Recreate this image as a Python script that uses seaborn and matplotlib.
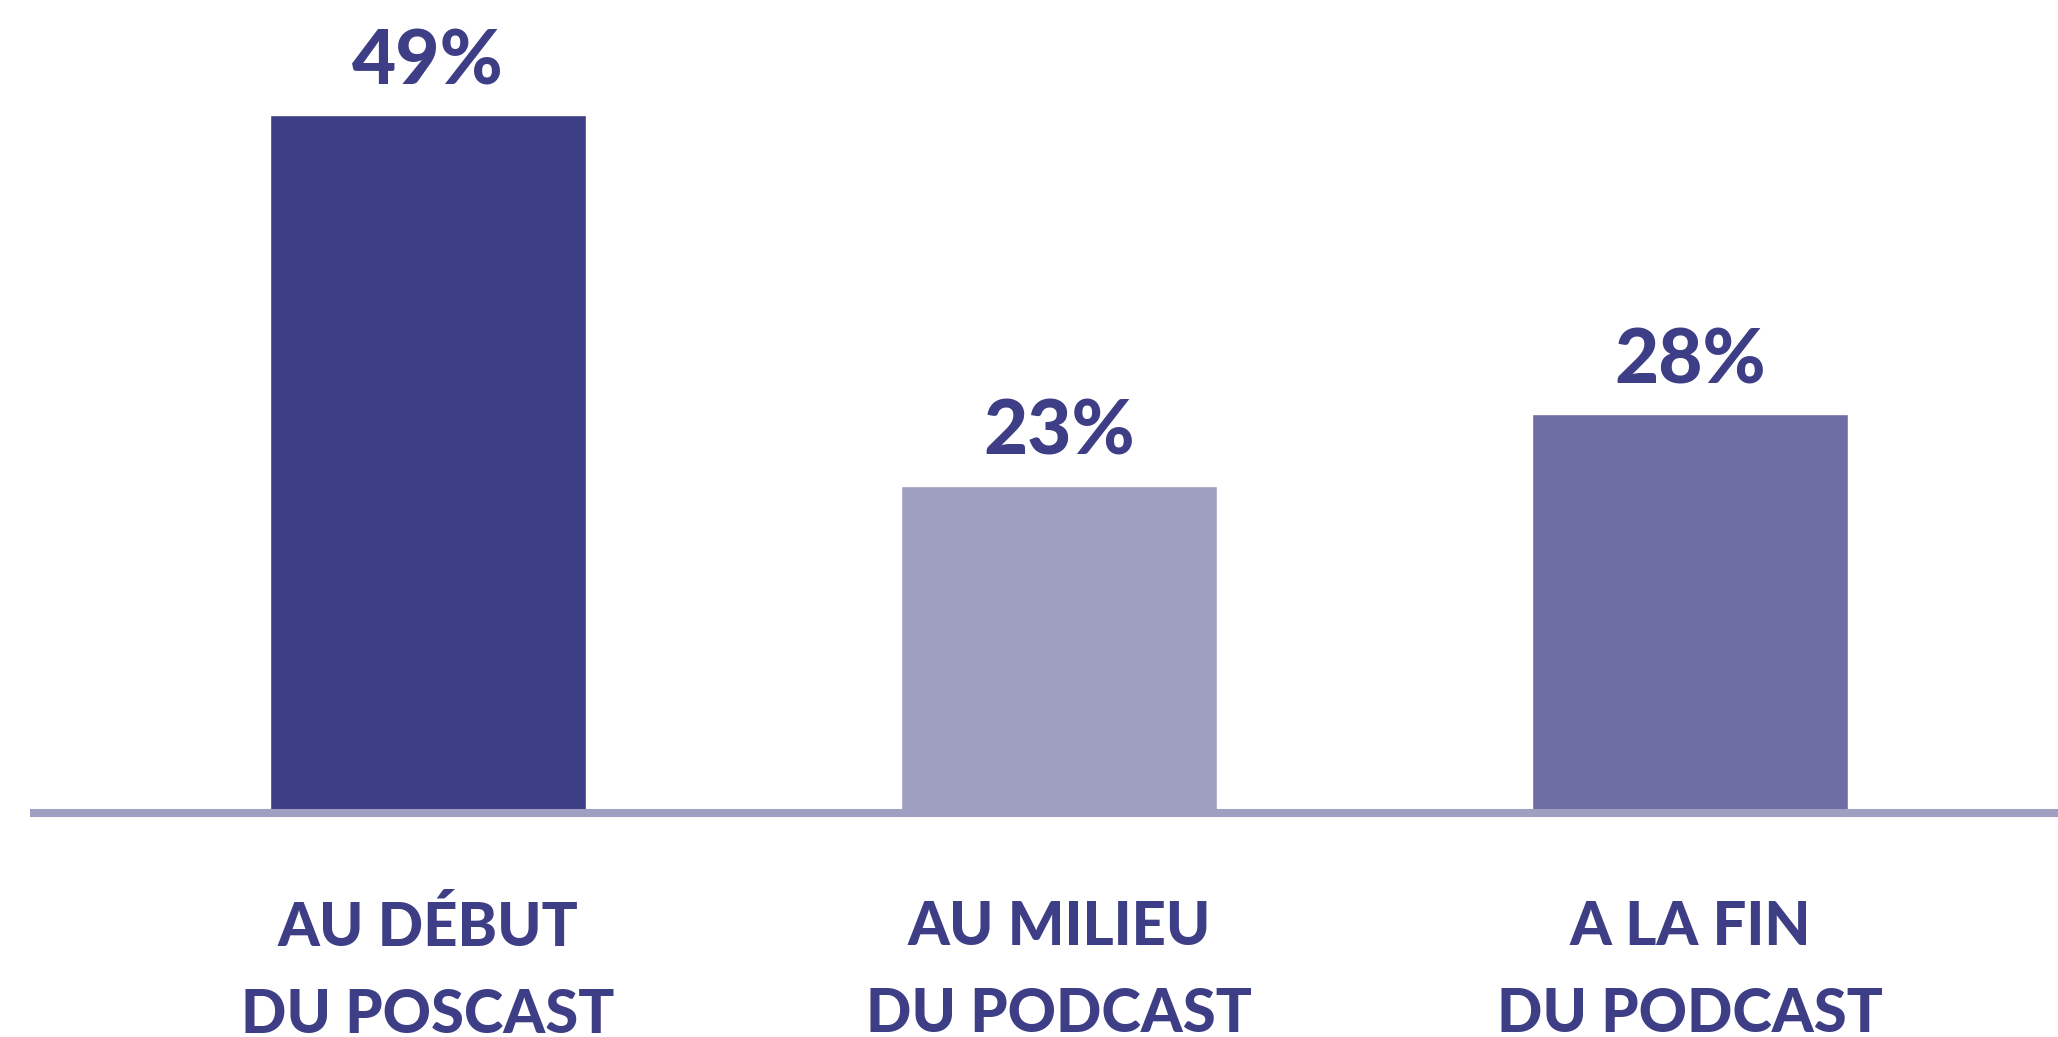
import matplotlib
matplotlib.use("Agg")
import matplotlib.pyplot as plt
import seaborn as sns
import pandas as pd

# Moment of the podcast where the message is heard (% of respondents)
categories = ["AU DÉBUT\nDU POSCAST", "AU MILIEU\nDU PODCAST", "A LA FIN\nDU PODCAST"]
values = [49, 23, 28]
value_labels = ["49%", "23%", "28%"]
bar_colors = ["#3D3E85", "#9F9FC2", "#6E6EA5"]

TEXT_COLOR = "#3D3E85"
AXIS_COLOR = "#9F9FC2"

sns.set_theme(style="white")
plt.rcParams["font.family"] = ["Lato", "DejaVu Sans"]

df = pd.DataFrame({"moment": categories, "share": values})

fig = plt.figure(figsize=(20.58, 10.37), dpi=100)
ax = fig.add_axes([0.0, 0.216, 1.0, 0.784])

sns.barplot(data=df, x="moment", y="share", hue="moment",
            palette=bar_colors, width=0.5, saturation=1,
            legend=False, ax=ax, zorder=1)

ax.set_xlim(-0.678, 2.583)
ax.set_ylim(0, 57.1)

for container, lab in zip(ax.containers, value_labels):
    ax.bar_label(container, labels=[lab], padding=13,
                 fontsize=55, fontweight="black", color=TEXT_COLOR)

for side in ("top", "left", "right"):
    ax.spines[side].set_visible(False)
ax.spines["bottom"].set_color(AXIS_COLOR)
ax.spines["bottom"].set_linewidth(5.8)
ax.spines["bottom"].set_bounds(-0.624, 2.583)
ax.spines["bottom"].set_zorder(3)

ax.set_yticks([])
ax.set_xlabel("")
ax.set_ylabel("")
ax.tick_params(axis="x", length=0, pad=62)
for t in ax.get_xticklabels():
    t.set_fontsize(43)
    t.set_fontweight("black")
    t.set_color(TEXT_COLOR)
    t.set_linespacing(1.67)
    t.set_va("top")

fig.savefig("out.png", dpi=100, facecolor="white")
